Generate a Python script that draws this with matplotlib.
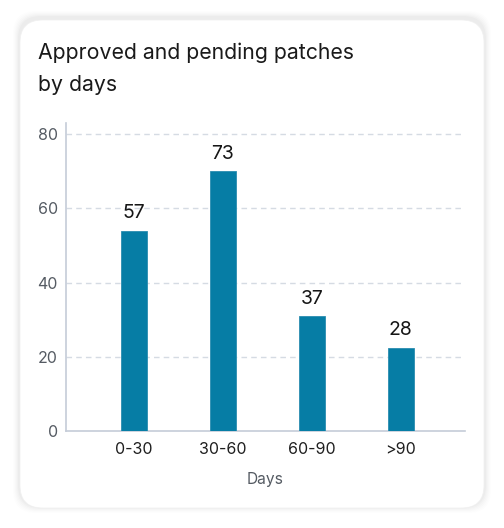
import matplotlib.pyplot as plt
from matplotlib.patches import FancyBboxPatch

categories = ["0-30", "30-60", "60-90", ">90"]
bar_values = [54, 70, 31, 22.5]
value_labels = ["57", "73", "37", "28"]
yticks = [0, 20, 40, 60, 80]

plt.rcParams['font.family'] = ['Inter', 'DejaVu Sans']

fig = plt.figure(figsize=(5.04, 5.28), dpi=100)
fig.patch.set_facecolor("white")

W, H = 504.0, 528.0
# soft shadow behind the card
for i, a in enumerate([0.006, 0.008, 0.01, 0.012, 0.015, 0.018]):
    g = 7 - i
    sh = FancyBboxPatch(((20 - g) / W, (20 - g + 2) / H), (464 + 2 * g) / W, (488 + 2 * g) / H,
                        boxstyle="round,pad=0,rounding_size=0.045", transform=fig.transFigure,
                        facecolor="black", edgecolor="none", alpha=a, mutation_aspect=W / H,
                        zorder=-3)
    fig.patches.append(sh)
card = FancyBboxPatch((20 / W, 20 / H), 464 / W, 488 / H,
                      boxstyle="round,pad=0,rounding_size=0.045", transform=fig.transFigure,
                      facecolor="white", edgecolor="#f0f0f0", linewidth=0.5, mutation_aspect=W / H,
                      zorder=-2)
fig.patches.append(card)

fig.text(38 / W, 1 - 53 / H, "Approved and pending patches", fontsize=15.3,
         color="#1a1a1a", va="center", ha="left")
fig.text(38 / W, 1 - 85 / H, "by days", fontsize=15.3,
         color="#1a1a1a", va="center", ha="left")

ax = fig.add_axes([66 / W, 1 - 431 / H, 399 / W, 308 / H])
ax.set_facecolor("none")
x = range(len(categories))
bars = ax.bar(x, bar_values, width=0.29, color="#067da5", edgecolor="#2a8db0", linewidth=0.6, zorder=3)
for b, lab in zip(bars, value_labels):
    ax.annotate(lab, (b.get_x() + b.get_width() / 2, b.get_height()), xytext=(0, 6),
                textcoords="offset points", ha="center", va="bottom", fontsize=14, color="#161616")

ax.set_xlim(-0.76, 3.72)
ax.set_ylim(0, 83)
ax.set_yticks(yticks)
ax.set_xticks(list(x))
ax.set_xticklabels(categories)
for t in yticks[1:]:
    ax.axhline(t, color="#d5dbe3", linestyle=(0, (4, 3)), linewidth=1, zorder=1)
for s in ["top", "right"]:
    ax.spines[s].set_visible(False)
for s in ["left", "bottom"]:
    ax.spines[s].set_color("#c5ccd8")
    ax.spines[s].set_linewidth(1.2)
ax.tick_params(axis="y", length=0, pad=6, labelsize=11.5, labelcolor="#555b63")
ax.tick_params(axis="x", length=0, pad=8, labelsize=11.5, labelcolor="#1f1f1f")
ax.set_xlabel("Days", fontsize=11.2, color="#555b63", labelpad=11)

fig.savefig("out.png", dpi=100)
